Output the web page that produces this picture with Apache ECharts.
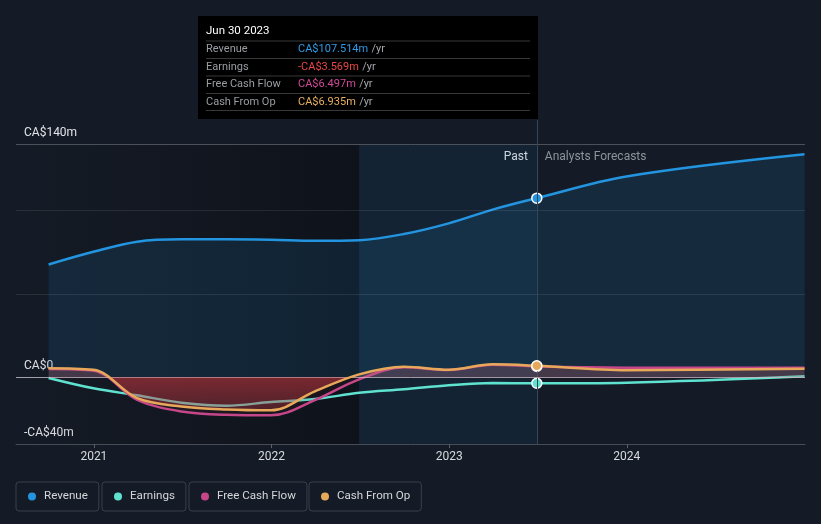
<!DOCTYPE html>
<html>
<head>
<meta charset="utf-8">
<script src="https://cdn.jsdelivr.net/npm/echarts@6/dist/echarts.min.js"></script>
<style>
html,body{margin:0;padding:0;background:#151b26;}
#c{width:821px;height:524px;}
</style>
</head>
<body>
<div id="c"></div>
<script>
// ---- data (CA$ millions) ----
const pastDates = ['2020-09-30','2020-12-31','2021-03-31','2021-06-30','2021-09-30','2021-12-31','2022-03-31','2022-06-30','2022-09-30','2022-12-31','2023-03-31','2023-06-30'];
const forecastDates = ['2023-12-31','2024-12-31'];
const revenuePast = [67.7, 75.3, 81.4, 82.8, 82.8, 82.5, 81.9, 82.3, 86.0, 92.4, 100.6, 107.514];
const revenueForecast = [120.5, 133.8];
const earningsPast = [-0.4, -6.6, -10.8, -15.2, -17.0, -14.8, -13.0, -9.3, -7.2, -4.8, -3.4, -3.569];
const earningsForecast = [-3.2, 0.6];
const fcfPast = [5.0, 4.0, -13.5, -20.5, -22.5, -22.8, -13.7, -1.2, 6.0, 4.4, 7.6, 6.497];
const fcfForecast = [5.8, 5.8];
const cfoPast = [5.5, 4.5, -12.5, -17.5, -19.3, -19.8, -8.4, 1.8, 6.4, 4.6, 7.8, 6.935];
const cfoForecast = [4.3, 5.1];
const yTickLabels = [-40, 0, 140];
const yGridLines = [140, 100, 50];
const xYearTicks = ['2021-01-01','2022-01-01','2023-01-01','2024-01-01'];
const xRange = ['2020-07-25','2025-01-01'];
const highlightStart = '2022-06-30';
const tooltipTitle = 'Jun 30 2023';
const pastLabel = 'Past', forecastLabel = 'Analysts Forecasts';

function d(s){const p=s.split('-').map(Number);return new Date(p[0],p[1]-1,p[2]).getTime();}
function pts(dates, vals){return dates.map((t,i)=>[d(t), vals[i]]);}
const lastIdx = pastDates.length-1;
function build(past, fc, color){
  const arr = pts(pastDates, past).concat(pts(forecastDates, fc));
  return arr.map((p,i)=> i===lastIdx ? {value:p, symbol:'circle', symbolSize:10,
     itemStyle:{color:color, borderColor:'#ffffff', borderWidth:1.5}} : {value:p, symbol:'none'});
}
const C = {rev:'#2394df', earn:'#5fe3d0', fcf:'#c6468a', cfo:'#e8a85a'};

const cfoAll = cfoPast.concat(cfoForecast);
const cMax = Math.max(0, ...cfoAll), cMin = Math.min(0, ...cfoAll);
const z0 = cMax/(cMax-cMin);

const chart = echarts.init(document.getElementById('c'), null, {renderer:'canvas'});
const FONT = 'Roboto, "Noto Sans", sans-serif';

function legend(name, left){
  return {data:[name], left:left, top:482, icon:'circle', itemWidth:8, itemHeight:8,
    padding:[7,11,7,12], borderColor:'#3a3f49', borderWidth:1, borderRadius:3,
    selectedMode:false,
    textStyle:{color:'#d4d6da', fontSize:11.6, fontFamily:FONT, padding:[0,0,0,3], lineHeight:15}};
}

const option = {
  animation:false,
  backgroundColor:'#151b26',
  textStyle:{fontFamily:FONT},
  grid:{left:16, right:16, top:120, bottom:80},
  legend:[legend('Revenue',16), legend('Earnings',102), legend('Free Cash Flow',189), legend('Cash From Op',309)],
  xAxis:{type:'value', min:d(xRange[0]), max:d(xRange[1]),
    axisLine:{show:true, onZero:false, lineStyle:{color:'#474c56', width:1}},
    axisTick:{show:true, length:4, lineStyle:{color:'#5a5f68'}, customValues:xYearTicks.map(d)},
    axisLabel:{color:'#d8dadd', fontSize:12, fontFamily:FONT, margin:7, customValues:xYearTicks.map(d),
      formatter:(v)=>String(new Date(v).getFullYear())},
    splitLine:{show:false}},
  yAxis:{type:'value', min:-40, max:154.4,
    axisLine:{show:false}, axisTick:{show:false}, splitLine:{show:false},
    axisLabel:{inside:true, margin:8, color:'#e2e4e7', fontSize:12, fontFamily:FONT,
      verticalAlign:'bottom', lineHeight:14, padding:[0,0,4,0],
      customValues:yTickLabels,
      formatter:(v)=> v===0 ? 'CA$0' : (v<0 ? '-CA$'+Math.abs(v)+'m' : 'CA$'+v+'m')}},
  series:[
    {type:'line', name:'bg', z:1, data:[], silent:true,
      markArea:{silent:true, label:{show:false}, data:[
        [{xAxis:d(xRange[0]), yAxis:-40, itemStyle:{color:new echarts.graphic.LinearGradient(0,0,1,0,[{offset:0,color:'rgba(8,10,15,0)'},{offset:1,color:'rgba(8,10,15,0.5)'}])}},
         {xAxis:d(highlightStart), yAxis:140}],
        [{xAxis:d(highlightStart), yAxis:-40, itemStyle:{color:'rgba(20,62,100,0.22)'}},
         {xAxis:d(pastDates[lastIdx]), yAxis:140}]
      ]},
      markLine:{silent:true, symbol:'none', label:{show:false}, data:
        yGridLines.map(v=>({yAxis:v, lineStyle:{color: v===140 ? '#4b5059' : 'rgba(255,255,255,0.09)', width:1, type:'solid'}}))
        .concat([{xAxis:d(pastDates[lastIdx]), lineStyle:{color:'#34465a', width:1, type:'solid'}}])}
    },
    {type:'line', name:'Revenue', z:2, smooth:0.35, showSymbol:true, data:build(revenuePast, revenueForecast, C.rev),
      itemStyle:{color:C.rev}, lineStyle:{color:C.rev, width:2.5},
      areaStyle:{color:'rgba(35,148,223,0.18)'}},
    {type:'line', name:'Earnings', z:3, smooth:0.35, showSymbol:true, data:build(earningsPast, earningsForecast, C.earn),
      itemStyle:{color:C.earn}, lineStyle:{color:C.earn, width:2.5}},
    {type:'line', name:'Free Cash Flow', z:4, smooth:0.35, showSymbol:true, data:build(fcfPast, fcfForecast, C.fcf),
      itemStyle:{color:C.fcf}, lineStyle:{color:C.fcf, width:2.5},
      areaStyle:{color:'rgba(150,40,60,0.12)'}},
    {type:'line', name:'Cash From Op', z:5, smooth:0.35, showSymbol:true, data:build(cfoPast, cfoForecast, C.cfo),
      itemStyle:{color:C.cfo}, lineStyle:{color:C.cfo, width:2.5},
      areaStyle:{color:new echarts.graphic.LinearGradient(0,0,0,1,[
        {offset:0,color:'rgba(190,110,120,0.32)'},{offset:z0,color:'rgba(190,110,120,0.32)'},
        {offset:z0,color:'rgba(215,58,64,0.72)'},{offset:1,color:'rgba(204,61,66,0.42)'}])}},
    {type:'line', name:'zero', z:10, data:[], silent:true,
      markLine:{silent:true, symbol:'none', label:{show:false},
        data:[{yAxis:0, lineStyle:{color:'rgba(205,205,215,0.75)', width:1, type:'solid'}}]}}
  ]
};
chart.setOption(option);

// tooltip-like panel and Past / Forecast labels anchored to the last reported point
const px = chart.convertToPixel({xAxisIndex:0}, d(pastDates[lastIdx]));
const pyTop = chart.convertToPixel({yAxisIndex:0}, 140);
const w = 340, h = 103, x0 = Math.round(px) - w + 1, y0 = 16;
function fmt(v){return (v<0?'-':'')+'CA$'+Math.abs(v).toFixed(3)+'m';}
const rows = [
  ['Revenue', revenuePast[lastIdx], '#2e9be8'],
  ['Earnings', earningsPast[lastIdx], '#e84545'],
  ['Free Cash Flow', fcfPast[lastIdx], '#d0489a'],
  ['Cash From Op', cfoPast[lastIdx], '#e8b060']
];
const els = [{type:'rect', shape:{x:x0, y:y0, width:w, height:h}, style:{fill:'#000000'}},
  {type:'text', x:x0+8, y:y0+15, style:{text:tooltipTitle, fill:'#ffffff', font:'11.5px '+FONT, verticalAlign:'middle'}}];
const sepY = [41, 58.5, 76, 93.5, 110.5];
sepY.forEach(y=>els.push({type:'line', shape:{x1:x0+8, y1:y, x2:x0+w-8, y2:y}, style:{stroke:'#383838', lineWidth:1}}));
rows.forEach((r,i)=>{
  const cy = 49.5 + i*17.5;
  els.push({type:'text', x:x0+8, y:cy, style:{text:r[0], fill:'#9a9da2', font:'11px '+FONT, verticalAlign:'middle'}});
  els.push({type:'text', x:x0+100, y:cy, style:{
    text:'{v|'+fmt(r[1])+'} {u|/yr}', verticalAlign:'middle',
    rich:{v:{fill:r[2], font:'11px '+FONT}, u:{fill:'#a4a7ac', font:'11px '+FONT}}}});
});
const labels = [
  {type:'text', x:px-9, y:pyTop+13, style:{text:pastLabel, fill:'#ffffff', font:'12px '+FONT, align:'right', verticalAlign:'middle'}},
  {type:'text', x:px+8, y:pyTop+13, style:{text:forecastLabel, fill:'#8e939b', font:'12px '+FONT, align:'left', verticalAlign:'middle'}}
];
chart.setOption({graphic:[{type:'group', z:100, children:els}, {type:'group', z:50, children:labels}]});
</script>
</body>
</html>
